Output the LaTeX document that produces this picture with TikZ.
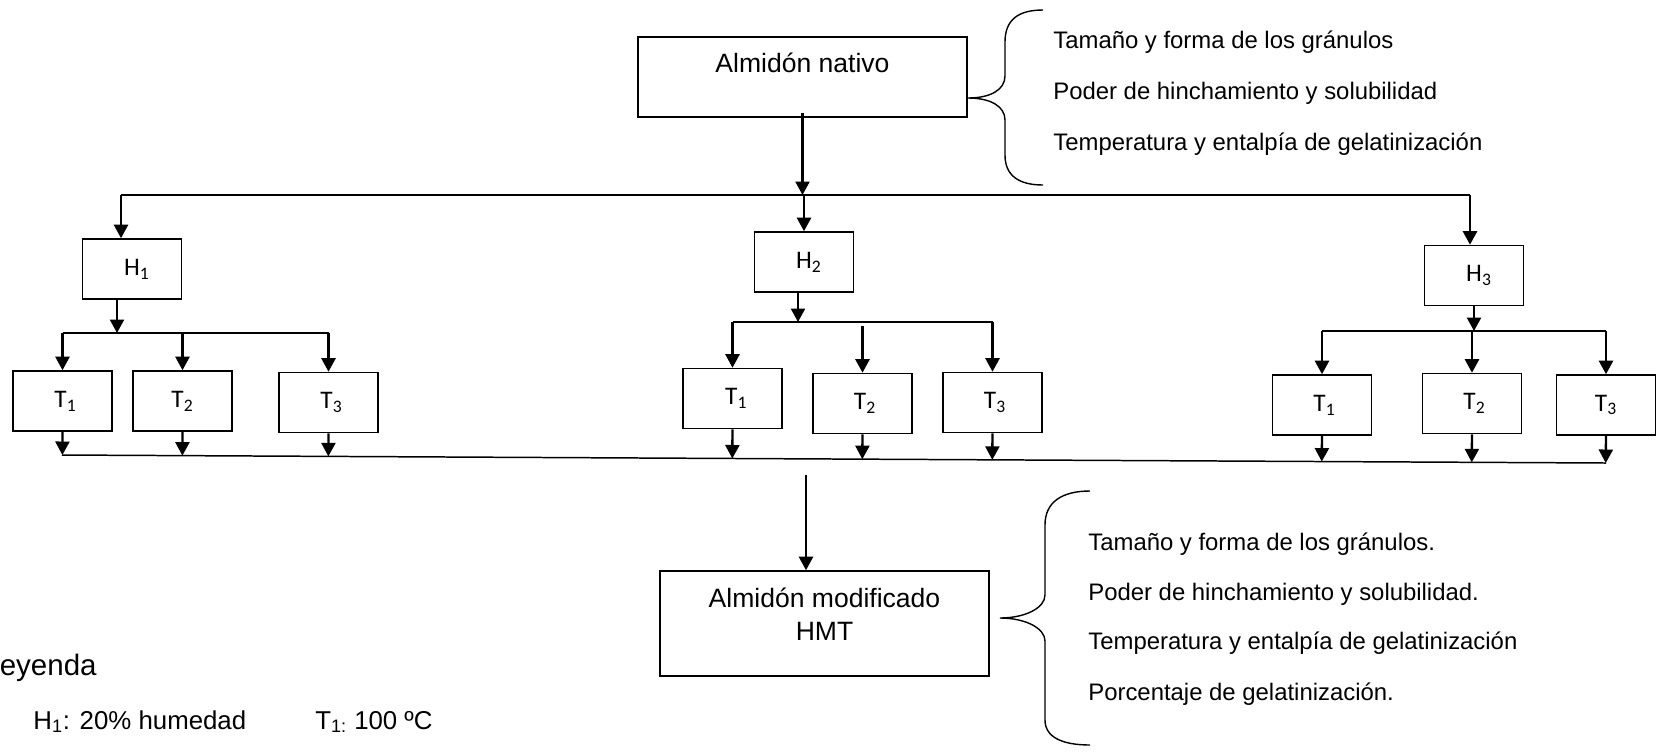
\documentclass[tikz,border=0pt]{standalone}
\usepackage{fontspec}
\setmainfont{Liberation Sans}
\newfontfamily\calibri{Carlito}
\usetikzlibrary{positioning, arrows.meta, calc}

\begin{document}
\begin{tikzpicture}[
    x=0.02cm, y=-0.02cm,
    bigbox/.style={
        draw,
        line width=0.9pt,
        minimum width=6.58cm,
        inner sep=0pt
    },
    boxtxt/.style={
        align=center,
        inner sep=0pt,
        font=\fontsize{15.1}{18.8}\selectfont
    },
    smallbox/.style={
        draw,
        line width=0.9pt,
        minimum width=1.98cm,
        minimum height=1.2cm,
        inner sep=0pt,
        font=\calibri\fontsize{14.4}{17}\selectfont
    },
    bus/.style={line width=0.85pt},
    arr/.style={
        -{Triangle[width=0.28cm, length=0.27cm]},
        line width=1.35pt
    },
    brace/.style={line width=0.8pt},
    toptxt/.style={anchor=base west, inner sep=0pt, font=\fontsize{13.6}{16}\selectfont},
    bottxt/.style={anchor=base west, inner sep=0pt, font=\fontsize{13.6}{16}\selectfont},
    legtxt/.style={anchor=base west, inner sep=0pt, font=\fontsize{14.7}{17}\selectfont}
]

\useasboundingbox (0, 0) rectangle (1658, 752);

% ========== MAIN BOXES ==========

\node[bigbox, minimum height=1.6cm] (nativo) at (802.5, 77) {};
\node[boxtxt] (nativotxt) at (802.5, 63) {Almidón nativo};

\node[bigbox, minimum height=2.1cm] (modificado) at (824.5, 623.5) {};
\node[boxtxt] (modificadotxt) at (824.5, 614) {Almidón modificado\\HMT};

% ========== H BOXES ==========

\node[smallbox] (h1) at (132, 269) {\hspace{0.2cm}H\textsubscript{1}};
\node[smallbox] (h2) at (804, 262) {\hspace{0.2cm}H\textsubscript{2}};
\node[smallbox] (h3) at (1474, 275.5) {\hspace{0.2cm}H\textsubscript{3}};

% ========== T BOXES ==========

\node[smallbox] (t11) at (62.5, 401) {\hspace{0.12cm}T\textsubscript{1}};
\node[smallbox] (t12) at (182.5, 401) {T\textsubscript{2}\hspace{0.74cm}};
\node[smallbox] (t13) at (328.5, 402.5) {\hspace{0.12cm}T\textsubscript{3}};

\node[smallbox] (t21) at (732.5, 398.5) {\hspace{0.15cm}T\textsubscript{1}};
\node[smallbox] (t22) at (862.5, 403.5) {\hspace{0.1cm}T\textsubscript{2}};
\node[smallbox] (t23) at (992.5, 402.5) {\hspace{0.1cm}T\textsubscript{3}};

\node[smallbox] (t31) at (1322, 405) {\hspace{0.1cm}T\textsubscript{1}};
\node[smallbox] (t32) at (1472, 403.5) {\hspace{0.1cm}T\textsubscript{2}};
\node[smallbox] (t33) at (1606, 405) {T\textsubscript{3}\hspace{0.76cm}};

% ========== TOP BUS ==========

\coordinate (topl) at (121, 195);
\coordinate (topr) at (1470, 195);

\draw[bus] (topl) -- (topr);
\draw[arr] ([yshift=0.1cm]nativo.south) -- (nativo.south |- topl);
\draw[arr] (topl) -- (topl |- h1.north);
\draw[arr] (h2.north |- topl) -- (h2.north);
\draw[arr] (topr) -- (topr |- h3.north);

% ========== SUB BUSES ==========

\coordinate (sub1) at (117, 333);
\draw[arr] (sub1 |- h1.south) -- (sub1);
\draw[bus] (t11.north |- sub1) -- (t13.north |- sub1);
\draw[arr] (t11.north |- sub1) -- (t11.north);
\draw[arr] (t12.north |- sub1) -- (t12.north);
\draw[arr] (t13.north |- sub1) -- (t13.north);

\coordinate (sub2) at (798, 322);
\draw[arr] (sub2 |- h2.south) -- (sub2);
\draw[bus] (t21.north |- sub2) -- (t23.north |- sub2);
\draw[arr] (t21.north |- sub2) -- (t21.north);
\draw[arr] ([yshift=-0.08cm]t22.north |- sub2) -- (t22.north);
\draw[arr] (t23.north |- sub2) -- (t23.north);

\coordinate (sub3) at (1472, 331);
\draw[arr] (h3.south) -- (h3.south |- sub3);
\draw[bus] (t31.north |- sub3) -- (t33.north |- sub3);
\draw[arr] (t31.north |- sub3) -- (t31.north);
\draw[arr] (t32.north |- sub3) -- (t32.north);
\draw[arr] (t33.north |- sub3) -- (t33.north);

% ========== BOTTOM BUS ==========

\coordinate (botl) at (62, 455);
\coordinate (botr) at (1606, 463);
\draw[bus] (botl) -- (botr);

\draw[arr] (t11.south) -- ($(botl)!(t11.south)!(botr)$);
\draw[arr] (t12.south) -- ($(botl)!(t12.south)!(botr)$);
\draw[arr] (t13.south) -- ($(botl)!(t13.south)!(botr)$);
\draw[arr] (t21.south) -- ($(botl)!(t21.south)!(botr)$);
\draw[arr] (t22.south) -- ($(botl)!(t22.south)!(botr)$);
\draw[arr] (t23.south) -- ($(botl)!(t23.south)!(botr)$);
\draw[arr] (t31.south) -- ($(botl)!(t31.south)!(botr)$);
\draw[arr] (t32.south) -- ($(botl)!(t32.south)!(botr)$);
\draw[arr] (t33.south) -- ($(botl)!(t33.south)!(botr)$);

\coordinate (botm) at (806, 475);
\draw[arr] (botm) -- (botm |- modificado.north);

% ========== BRACES AND PROPERTIES ==========

\draw[brace] (1043, 10) .. controls (1018, 10) and (1005, 20) .. (1005, 42)
    -- (1005, 76) .. controls (1005, 90) and (990, 98) .. (968, 98)
    .. controls (990, 98) and (1005, 106) .. (1005, 120)
    -- (1005, 155) .. controls (1005, 175) and (1018, 185) .. (1043, 185);

\node[toptxt] (prop1) at (1053, 48.6) {Tamaño y forma de los gránulos};
\node[toptxt] (prop2) at (1053, 99.6) {Poder de hinchamiento y solubilidad};
\node[toptxt] (prop3) at (1053, 150.6) {Temperatura y entalpía de gelatinización};

\draw[brace] (1090, 491) .. controls (1062, 491) and (1045, 502) .. (1045, 525)
    -- (1045, 595) .. controls (1045, 608) and (1025, 618) .. (1000, 618)
    .. controls (1025, 618) and (1045, 628) .. (1045, 641)
    -- (1045, 720) .. controls (1045, 737) and (1062, 745) .. (1090, 745);

\node[bottxt] (mprop1) at (1088, 550) {Tamaño y forma de los gránulos.};
\node[bottxt] (mprop2) at (1088, 600) {Poder de hinchamiento y solubilidad.};
\node[bottxt] (mprop3) at (1088, 649.5) {Temperatura y entalpía de gelatinización};
\node[bottxt] (mprop4) at (1088, 700.5) {Porcentaje de gelatinización.};

% ========== LEGEND ==========

\node[anchor=base east, inner sep=0pt, font=\fontsize{16.8}{20}\selectfont] (leyenda) at (97, 675) {Leyenda};
\node[legtxt] (legh) at (33, 729) {H\textsubscript{1}: 20\% humedad};
\node[legtxt] (legt) at (315, 729) {T\textsubscript{1:} 100 ºC};

\end{tikzpicture}
\end{document}
